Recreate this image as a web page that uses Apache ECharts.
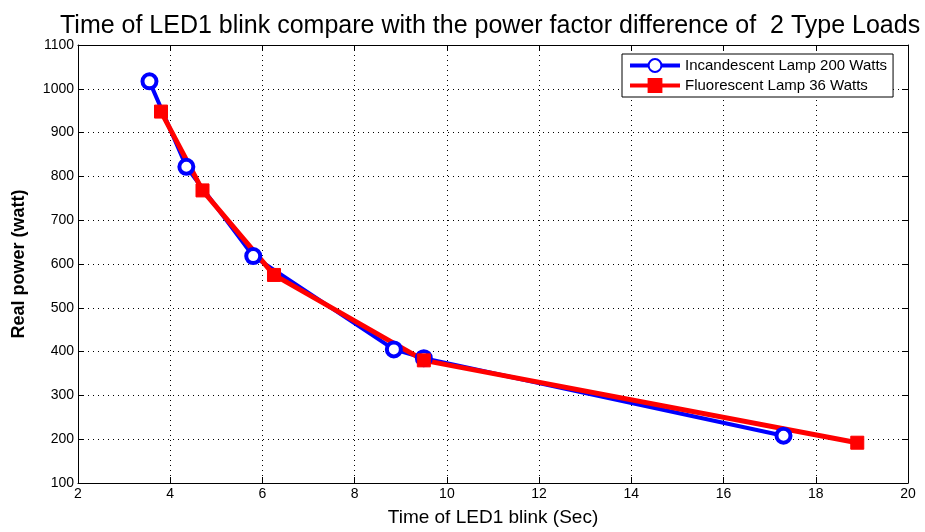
<!DOCTYPE html>
<html>
<head>
<meta charset="utf-8">
<script src="https://cdn.jsdelivr.net/npm/echarts@6/dist/echarts.min.js"></script>
<style>
  html, body { margin: 0; padding: 0; background: #fff; }
  #chart { width: 925px; height: 532px; }
</style>
</head>
<body>
<div id="chart"></div>
<script>
// blink time (s) vs real power (W)
const incandescentTime = [3.55, 4.35, 5.8, 8.85, 9.5, 17.3];
const incandescentPower = [1017, 822, 618, 405, 385, 208];
const fluorescentTime = [3.8, 4.7, 6.25, 9.5, 18.9];
const fluorescentPower = [948, 768, 575, 380, 192];

const xTicks = [2, 4, 6, 8, 10, 12, 14, 16, 18, 20];
const yTicks = [100, 200, 300, 400, 500, 600, 700, 800, 900, 1000, 1100];

const FONT = '"Liberation Sans Narrow", "Liberation Sans", Arial, sans-serif';
const SANS = '"Liberation Sans", Arial, sans-serif';

const zip = (xs, ys) => xs.map((x, i) => [x, ys[i]]);

const chart = echarts.init(document.getElementById('chart'));

const baseX = {
    type: 'value', min: xTicks[0], max: xTicks[xTicks.length - 1], interval: 2,
    axisLine: {lineStyle: {color: '#000', width: 1}},
    axisTick: {inside: true, length: 6, lineStyle: {color: '#000'}},
    splitLine: {show: false}
};
const baseY = {
    type: 'value', min: yTicks[0], max: yTicks[yTicks.length - 1], interval: 100,
    axisLine: {lineStyle: {color: '#000', width: 1}},
    axisTick: {inside: true, length: 6, lineStyle: {color: '#000'}},
    splitLine: {show: false}
};

const option = {
    backgroundColor: '#fff',
    animation: false,
    title: {
        text: 'Time of LED1 blink compare with the power factor difference of  2 Type Loads',
        left: 55, top: 9,
        textStyle: {fontFamily: SANS, fontSize: 25, fontWeight: 'normal', color: '#000'}
    },
    grid: {left: 78, right: 17, top: 45, bottom: 45},
    legend: {
        left: 622, top: 54,
        orient: 'vertical',
        itemWidth: 50, itemHeight: 16, itemGap: 5,
        padding: [4, 6, 4, 6],
        borderColor: '#000', borderWidth: 1,
        backgroundColor: '#fff',
        lineStyle: {width: 4},
        textStyle: {fontFamily: SANS, fontSize: 15, color: '#000'},
        data: ['Incandescent Lamp 200 Watts', 'Fluorescent Lamp 36 Watts']
    },
    xAxis: [
        Object.assign({}, baseX, {
            position: 'bottom',
            name: 'Time of LED1 blink (Sec)', nameLocation: 'middle', nameGap: 25,
            nameTextStyle: {fontFamily: SANS, fontSize: 19, color: '#000'},
            axisLabel: {fontFamily: FONT, fontSize: 14, color: '#000', margin: 4},
            splitLine: {show: true, lineStyle: {color: '#000', type: [1, 4], width: 1}}
        }),
        Object.assign({}, baseX, {position: 'top', axisLabel: {show: false}})
    ],
    yAxis: [
        Object.assign({}, baseY, {
            position: 'left',
            name: 'Real power (watt)', nameLocation: 'middle', nameGap: 50,
            nameTextStyle: {fontFamily: SANS, fontSize: 18, fontWeight: 'bold', color: '#000'},
            axisLabel: {fontFamily: FONT, fontSize: 14, color: '#000', margin: 4,
                        formatter: v => String(v)},
            splitLine: {show: true, lineStyle: {color: '#000', type: [1, 4], width: 1}}
        }),
        Object.assign({}, baseY, {position: 'right', axisLabel: {show: false}})
    ],
    series: [
        {
            name: 'Incandescent Lamp 200 Watts',
            type: 'line',
            data: zip(incandescentTime, incandescentPower),
            symbol: 'circle', symbolSize: 14,
            color: '#0000ff',
            lineStyle: {color: '#0000ff', width: 4},
            itemStyle: {color: '#fff', borderColor: '#0000ff', borderWidth: 4}
        },
        {
            name: 'Fluorescent Lamp 36 Watts',
            type: 'line',
            data: zip(fluorescentTime, fluorescentPower),
            symbol: 'rect', symbolSize: 13,
            color: '#ff0000',
            lineStyle: {color: '#ff0000', width: 5},
            itemStyle: {color: '#ff0000', borderColor: '#ff0000', borderWidth: 1}
        }
    ]
};

chart.setOption(option);
</script>
</body>
</html>
